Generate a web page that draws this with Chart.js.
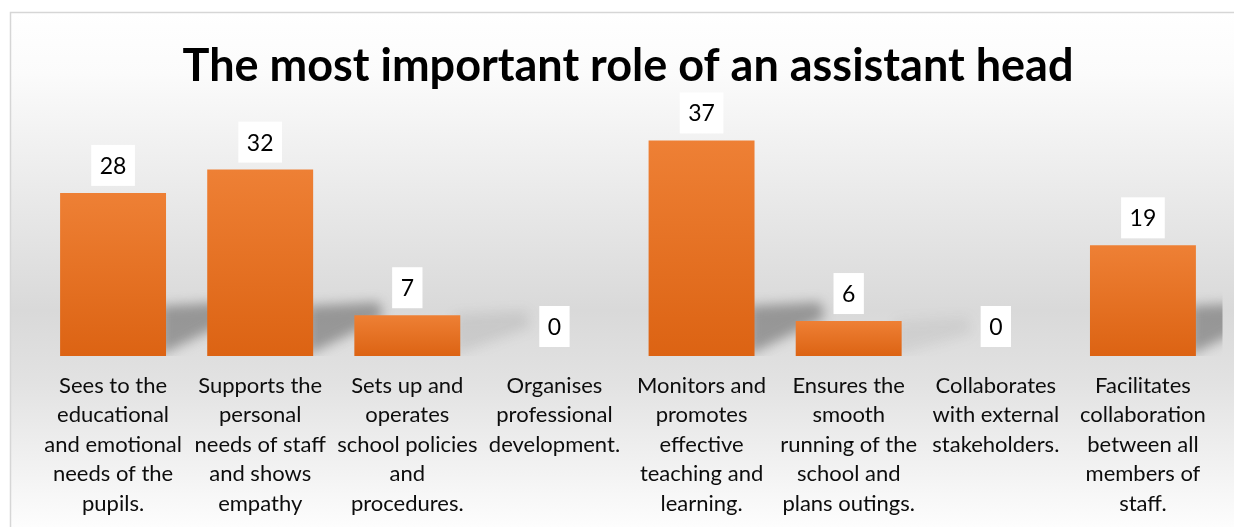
<!DOCTYPE html>
<html>
<head>
<meta charset="utf-8">
<script src="https://cdn.jsdelivr.net/npm/chart.js@4.4.1/dist/chart.umd.min.js"></script>
<style>
  html, body { margin: 0; padding: 0; background: #fff; }
  canvas { display: block; }
</style>
</head>
<body>
<canvas id="roleChart" width="1234" height="527"></canvas>
<script>
const chartTitle = 'The most important role of an assistant head';

const categories = [
    ['Sees to the', 'educational', 'and emotional', 'needs of the', 'pupils.'],
    ['Supports the', 'personal', 'needs of staff', 'and shows', 'empathy'],
    ['Sets up and', 'operates', 'school policies', 'and', 'procedures.'],
    ['Organises', 'professional', 'development.'],
    ['Monitors and', 'promotes', 'effective', 'teaching and', 'learning.'],
    ['Ensures the', 'smooth', 'running of the', 'school and', 'plans outings.'],
    ['Collaborates', 'with external', 'stakeholders.'],
    ['Facilitates', 'collaboration', 'between all', 'members of', 'staff.']
];

const responses = [28, 32, 7, 0, 37, 6, 0, 19];

const FONT = 'Lato, "Open Sans", sans-serif';

// grey panel behind the chart with a thin border
const panelBackground = {
    id: 'panelBackground',
    beforeDraw(chart) {
        const { ctx, width, height } = chart;
        ctx.save();
        ctx.fillStyle = '#ffffff';
        ctx.fillRect(0, 0, width, height);
        const grad = ctx.createLinearGradient(0, 12, 0, height);
        grad.addColorStop(0, '#ffffff');
        grad.addColorStop(0.12, '#fbfbfb');
        grad.addColorStop(0.58, '#d9d9d9');
        grad.addColorStop(0.72, '#e2e2e2');
        grad.addColorStop(1, '#fdfdfd');
        ctx.fillStyle = grad;
        ctx.fillRect(10, 12, width, height);
        ctx.strokeStyle = '#d6d6d6';
        ctx.lineWidth = 1.5;
        ctx.beginPath();
        ctx.moveTo(10.5, height + 2);
        ctx.lineTo(10.5, 12.5);
        ctx.lineTo(width + 2, 12.5);
        ctx.stroke();
        ctx.restore();
    }
};

// perspective shadow cast back and to the right of each bar
const barShadows = {
    id: 'barShadows',
    beforeDatasetsDraw(chart) {
        const { ctx, chartArea } = chart;
        const meta = chart.getDatasetMeta(0);
        ctx.save();
        ctx.beginPath();
        ctx.rect(chartArea.left - 10, chartArea.top - 60, chartArea.right - chartArea.left + 16, chartArea.bottom - chartArea.top + 60);
        ctx.clip();
        ctx.filter = 'blur(6px)';
        meta.data.forEach(bar => {
            const barHeight = bar.base - bar.y;
            if (barHeight <= 0) return;
            const h = Math.min(barHeight, 50);
            const strength = Math.max(0.12, Math.min(1, (barHeight - 20) / 80));
            const right = bar.x + bar.width / 2;
            const b = bar.base;
            ctx.fillStyle = `rgba(95, 95, 95, ${0.55 * strength})`;
            ctx.beginPath();
            ctx.moveTo(right - 6, b - 1);
            ctx.lineTo(right - 6, b - h);
            ctx.lineTo(right + 66, b - h - 4);
            ctx.lineTo(right + 70, b - h + 12);
            ctx.closePath();
            ctx.fill();
        });
        ctx.restore();
    }
};

// value boxes above the bars
const valueBoxes = {
    id: 'valueBoxes',
    afterDatasetsDraw(chart) {
        const { ctx } = chart;
        const meta = chart.getDatasetMeta(0);
        ctx.save();
        ctx.font = `23px ${FONT}`;
        ctx.textAlign = 'center';
        ctx.textBaseline = 'middle';
        meta.data.forEach((bar, i) => {
            const text = String(responses[i]);
            const w = ctx.measureText(text).width + 17;
            const h = 41;
            const gap = responses[i] === 0 ? 9 : 7;
            const bottom = Math.min(bar.y, bar.base) - gap;
            ctx.fillStyle = '#ffffff';
            ctx.fillRect(bar.x - w / 2, bottom - h, w, h);
            ctx.fillStyle = '#000000';
            ctx.fillText(text, bar.x, bottom - h / 2 + 1);
        });
        ctx.restore();
    }
};

function barFill(context) {
    const { chart } = context;
    const yScale = chart.scales.y;
    if (!yScale || !chart.chartArea) return '#e67428';
    const top = yScale.getPixelForValue(context.raw);
    const base = yScale.getPixelForValue(0);
    if (base - top < 1) return '#e67428';
    const grad = chart.ctx.createLinearGradient(0, top, 0, base);
    grad.addColorStop(0, '#ee8035');
    grad.addColorStop(1, '#dc6313');
    return grad;
}

const ctx = document.getElementById('roleChart').getContext('2d');
new Chart(ctx, {
    type: 'bar',
    data: {
        labels: categories,
        datasets: [{
            label: 'Responses',
            data: responses,
            backgroundColor: barFill,
            borderWidth: 0,
            categoryPercentage: 1,
            barPercentage: 0.72
        }]
    },
    options: {
        responsive: false,
        animation: false,
        layout: {
            padding: { left: 39.5, right: 17.5, top: 0, bottom: 0 }
        },
        plugins: {
            legend: { display: false },
            tooltip: { enabled: false },
            title: {
                display: true,
                text: chartTitle,
                color: '#000000',
                font: { family: FONT, size: 45, weight: 'bold' },
                padding: { top: 39, bottom: 30 }
            }
        },
        scales: {
            x: {
                grid: { display: false },
                border: { display: false },
                afterFit(scale) {
                    scale.height = 171;
                },
                ticks: {
                    color: '#0d0d0d',
                    padding: 7,
                    maxRotation: 0,
                    autoSkip: false,
                    font: { family: FONT, size: 22, lineHeight: 29.5 / 22 }
                }
            },
            y: {
                display: false,
                min: 0,
                max: 40
            }
        }
    },
    plugins: [panelBackground, barShadows, valueBoxes]
});
</script>
</body>
</html>
